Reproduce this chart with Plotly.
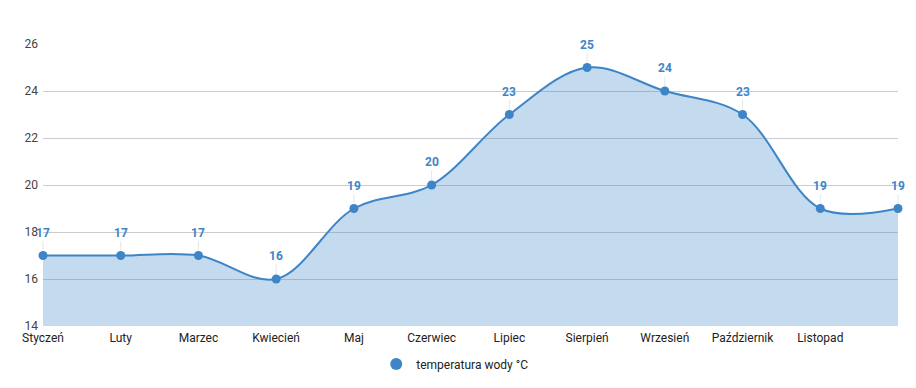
import plotly.graph_objects as go

months = ["Styczeń", "Luty", "Marzec", "Kwiecień", "Maj", "Czerwiec", "Lipiec",
          "Sierpień", "Wrzesień", "Październik", "Listopad", "Grudzień"]
tick_labels = months[:11]
temps = [17, 17, 17, 16, 19, 20, 23, 25, 24, 23, 19, 19]
series_name = "temperatura wody °C"

x_idx = list(range(len(months)))
blue = "#3d85c6"

fig = go.Figure()
fig.add_trace(go.Scatter(
    x=x_idx, y=temps, name=series_name, mode="lines+markers",
    line=dict(color=blue, width=2, shape="spline", smoothing=1),
    marker=dict(color=blue, size=9),
    fill="tozeroy", fillcolor="rgba(61,133,198,0.3)",
    cliponaxis=False, customdata=months, showlegend=False,
))
# legend entry (circle only, like the reference)
fig.add_trace(go.Scatter(
    x=[None], y=[None], name=series_name, mode="markers",
    marker=dict(color=blue, size=12), showlegend=True,
))

for xi, v in zip(x_idx, temps):
    fig.add_annotation(
        x=xi, y=v, text=f"<b>{v}</b>", showarrow=True, arrowhead=0,
        arrowwidth=1, arrowcolor="#e6e6e6", ax=0, ay=-23, standoff=5,
        font=dict(color=blue, size=12, family="Roboto"),
        bgcolor="rgba(255,255,255,0)",
    )

fig.update_layout(
    width=908, height=380,
    margin=dict(l=35, r=18, t=36, b=62, autoexpand=False),
    paper_bgcolor="white", plot_bgcolor="white",
    font=dict(family="Roboto", size=12, color="#222"),
    showlegend=True,
    legend=dict(orientation="h", xref="container", yref="container",
                x=0.492, xanchor="center", y=0.063, yanchor="middle",
                font=dict(size=12, color="#222")),
    xaxis=dict(range=[0, 11], tickvals=x_idx[:11], ticktext=tick_labels,
               showgrid=False, zeroline=False, showline=False, ticks="",
               ticklabelstandoff=3,
               tickfont=dict(size=12, color="#222")),
    yaxis=dict(range=[14, 26], dtick=2, tick0=14, showgrid=True,
               gridcolor="#cccccc", gridwidth=1, zeroline=False,
               showline=False, ticks="", ticklabelstandoff=4,
               tickfont=dict(size=12, color="#444")),
)

fig.write_html("out.html")
